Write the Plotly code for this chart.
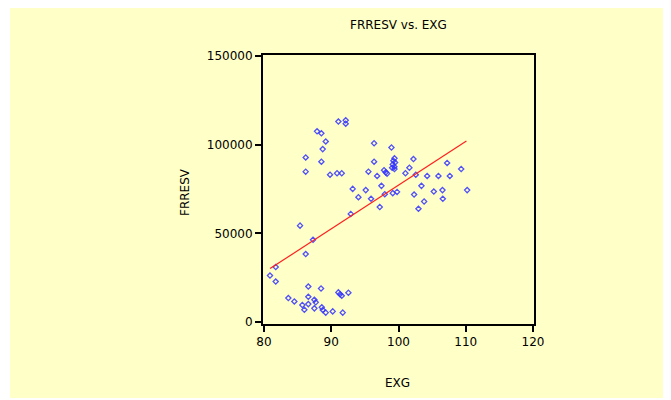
import plotly.graph_objects as go

# EXG values (x)
exg = [91.06, 92.15, 92.15, 87.89, 88.53, 89.18, 88.73, 86.20, 88.53, 86.20,
       89.82, 90.86, 91.56, 96.37, 98.95,
       99.40, 99.24, 99.49, 99.15, 99.39, 99.05, 99.40,
       96.37, 95.53, 96.82, 97.85, 98.10, 98.30,
       102.22, 101.62, 101.03, 102.57, 104.26, 105.94, 107.63, 107.23, 109.32, 110.21,
       93.19, 94.04, 95.13, 95.92, 97.46, 97.21, 97.96, 99.15, 99.79,
       102.32, 103.41, 102.97, 103.81, 105.25, 106.54, 106.59,
       92.90, 85.36, 87.29, 86.20, 81.74, 80.89, 81.74,
       86.59, 88.48, 83.62, 84.51, 85.70, 86.00, 86.59, 86.59, 87.49, 87.69,
       87.49, 88.59, 88.74, 89.18, 90.22, 91.71, 91.06, 91.31, 91.56, 92.55]

# FRRESV values (y)
frresv = [113000, 113700, 111800, 107500, 106400, 101800, 97500, 92800, 90400, 84800,
          83100, 83900, 83900, 100800, 98400,
          92300, 90900, 90000, 88900, 87600, 87000, 86300,
          90400, 84800, 82400, 85600, 84400, 83700,
          91900, 87000, 83900, 83100, 82400, 82400, 82400, 89700, 86300, 74400,
          75100, 70400, 74400, 69500, 76800, 64900, 72100, 72700, 73400,
          71900, 76800, 63900, 68000, 73600, 74400, 69500,
          61000, 54400, 46400, 38400, 31100, 26300, 22900,
          20100, 19000, 13600, 11700, 9700, 7000, 14300, 10200, 12600, 11200,
          7800, 8400, 6900, 5400, 6100, 5400, 16800, 15800, 14900, 16600]

# Regression line endpoints
fit_x = [80.9, 110.1]
fit_y = [30200, 102000]

x_ticks = [80, 90, 100, 110, 120]
y_ticks = [0, 50000, 100000, 150000]

FONT = "DejaVu Sans, Arial, sans-serif"
FS = 12

fig = go.Figure()
fig.add_trace(go.Scatter(
    x=exg, y=frresv, mode="markers",
    marker=dict(symbol="diamond-open", size=4, color="rgba(50,50,255,0.85)",
                line=dict(width=1.3)),
    showlegend=False, hoverinfo="skip"))
fig.add_trace(go.Scatter(
    x=fit_x, y=fit_y, mode="lines",
    line=dict(color="#FF2020", width=1.2),
    showlegend=False, hoverinfo="skip"))

OFF = 8  # page body margin
L, R, T, B = 263 - OFF, 534 - OFF, 55 - OFF, 324 - OFF
W, H = 671, 400
pw, ph = R - L, B - T

def px(xp):
    return (xp - OFF - L) / pw

def py(yp):
    return (B - (yp - OFF)) / ph

fig.add_shape(type="rect", xref="paper", yref="paper",
              x0=px(10), x1=px(700), y0=py(398), y1=py(0),
              fillcolor="#FFFFC8", line=dict(width=0), layer="below")

axis_common = dict(showgrid=False, zeroline=False, showline=True, mirror=True,
                   linecolor="black", linewidth=2, ticks="outside", ticklen=6,
                   tickwidth=1.5, tickcolor="black",
                   tickfont=dict(family=FONT, size=FS, color="black"))

fig.update_xaxes(range=[79.85, 120.15], tickvals=x_ticks,
                 ticktext=[str(v) for v in x_ticks], **axis_common)
fig.update_yaxes(range=[-1000, 150500], tickvals=y_ticks,
                 ticktext=[str(v) for v in y_ticks], **axis_common)

fig.add_annotation(text="FRRESV vs. EXG", xref="paper", yref="paper",
                   x=0.5, y=py(25), showarrow=False, xanchor="center", yanchor="middle",
                   font=dict(family=FONT, size=FS, color="black"))
fig.add_annotation(text="EXG", xref="paper", yref="paper",
                   x=px(397), y=py(383), showarrow=False, xanchor="center", yanchor="middle",
                   font=dict(family=FONT, size=FS, color="black"))
fig.add_annotation(text="FRRESV", xref="paper", yref="paper",
                   x=px(185), y=py(192), showarrow=False, textangle=-90,
                   xanchor="center", yanchor="middle",
                   font=dict(family=FONT, size=FS, color="black"))

fig.update_layout(width=W, height=H,
                  margin=dict(l=L, r=W - R, t=T, b=H - B, pad=0),
                  paper_bgcolor="white", plot_bgcolor="white",
                  showlegend=False)

fig.write_html("out.html")
